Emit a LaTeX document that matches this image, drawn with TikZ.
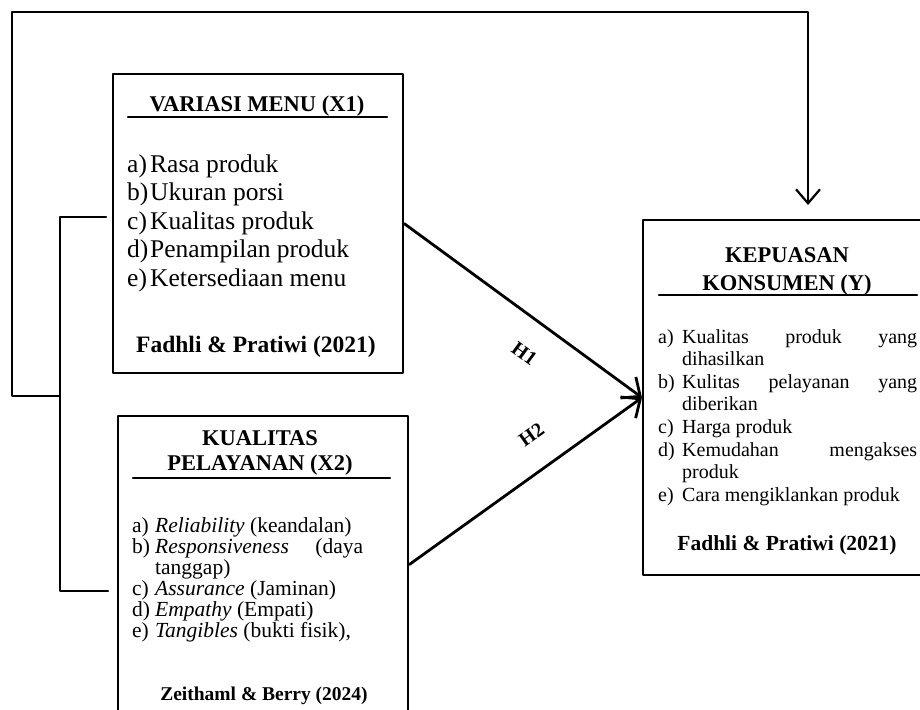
\documentclass[tikz,border=0pt]{standalone}
\usepackage{fontspec}
\setmainfont{Liberation Serif}
\usetikzlibrary{arrows.meta}
\tikzset{
    box/.style={draw, line width=2.2pt, inner sep=0pt, anchor=north west},
    ttl/.style={font=\fontsize{22.5}{25}\selectfont\bfseries, inner sep=0pt, anchor=base},
    src/.style={font=\bfseries, inner sep=0pt, anchor=base},
    itm/.style={inner sep=0pt, anchor=base west},
    wire/.style={line width=2.4pt},
    hyp/.style={font=\fontsize{20}{22}\selectfont\bfseries, inner sep=0pt, sloped}
}

\begin{document}
\begin{tikzpicture}[x=1pt, y=-1pt, line cap=round, line join=round]

\useasboundingbox (0,0) rectangle (920,709);

% boxes
\node[box, minimum width=290pt, minimum height=299pt] (var) at (112,73) {};
\node[box, minimum width=290pt, minimum height=297pt] (kual) at (117,415) {};
\node[box, minimum width=280pt, minimum height=355pt] (kep) at (642,219) {};

% X1
\node[ttl] (t1) at (257,111) {VARIASI MENU (X1)};
\draw[line width=2.3pt] (128,117) -- (387,117);
\foreach \lab/\txt [count=\i] in {a)/Rasa produk, b)/Ukuran porsi, c)/Kualitas produk,
    d)/Penampilan produk, e)/Ketersediaan menu} {
  \node[itm, font=\fontsize{25.5}{28}\selectfont] (v\i) at (127,{172+28.5*(\i-1)})
    {\makebox[23pt][l]{\lab}\txt};
}
\node[src, font=\fontsize{23.5}{26}\selectfont\bfseries] (s1) at (256,352) {Fadhli \& Pratiwi (2021)};

% X2
\node[ttl] (t2a) at (260,445) {KUALITAS};
\node[ttl] (t2b) at (260,470) {PELAYANAN (X2)};
\draw[line width=2.3pt] (133,478) -- (390,478);
\foreach \lab/\txt [count=\i] in {a)/\textit{Reliability} (keandalan),
    b)/\textit{Responsiveness}\hfill(daya, /tanggap), c)/\textit{Assurance} (Jaminan),
    d)/\textit{Empathy} (Empati), e)/{\textit{Tangibles} (bukti fisik),}} {
  \node[itm, font=\fontsize{21.5}{21}\selectfont] (k\i) at (132,{532+21*(\i-1)})
    {\makebox[23pt][l]{\lab}\makebox[208pt][l]{\txt}};
}
\node[src, font=\fontsize{19.5}{22}\selectfont\bfseries] (s2) at (264,700) {Zeithaml \& Berry (2024)};

% Y
\node[ttl] (t3a) at (787,262) {KEPUASAN};
\node[ttl] (t3b) at (787,290) {KONSUMEN (Y)};
\draw[line width=2.3pt] (659,295) -- (917,295);
\foreach \lab/\txt [count=\i] in {a)/Kualitas\hfill produk\hfill yang, /dihasilkan,
    b)/Kulitas\hfill pelayanan\hfill yang, /diberikan, c)/Harga produk,
    d)/Kemudahan\hfill mengakses, /produk, e)/Cara mengiklankan produk} {
  \node[itm, font=\fontsize{20}{22}\selectfont] (y\i) at (658,{343+22.6*(\i-1)})
    {\makebox[24pt][l]{\lab}\makebox[235pt][l]{\txt}};
}
\node[src, font=\fontsize{21.5}{24}\selectfont\bfseries] (s3) at (787,550) {Fadhli \& Pratiwi (2021)};

% hypotheses
\draw[line width=2.8pt, -{Straight Barb[length=15pt, width=26pt]}] (var.east)
  -- node[hyp, pos=0.59, below=26pt] (h1) {H1} (kep.west);
\draw[line width=2.8pt, -{Straight Barb[length=15pt, width=26pt]}] (kual.east)
  -- node[hyp, pos=0.61, above=26pt] (h2) {H2} (kep.west);

% brackets
\coordinate (lj) at (60,396);
\coordinate (b1) at (106,217);
\coordinate (b2) at (108,591);
\coordinate (tgt) at (808,205);
\draw[wire] (b1) -| (lj) |- (b2);
\draw[line width=2.2pt, -{Straight Barb[length=14pt, width=24pt]}] (lj) -| (12,12) -| (tgt);

\end{tikzpicture}
\end{document}
